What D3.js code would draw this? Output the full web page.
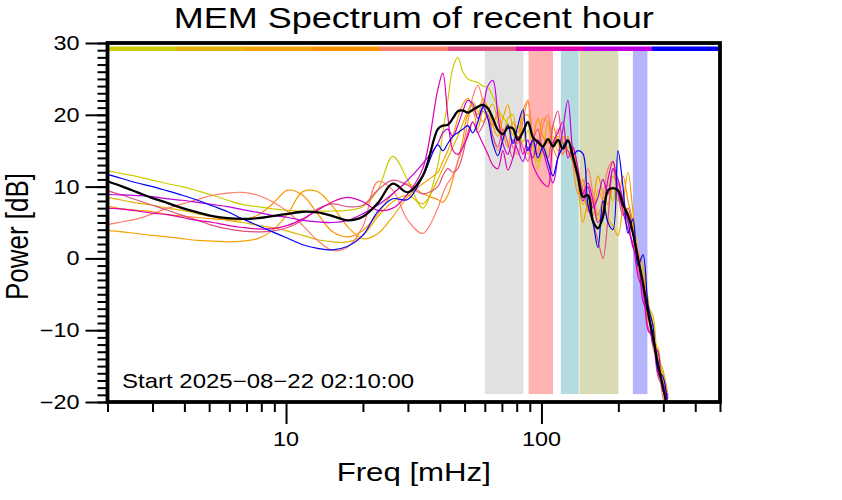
<!DOCTYPE html>
<html>
<head>
<meta charset="utf-8">
<script src="https://cdn.jsdelivr.net/npm/d3@7/dist/d3.min.js"></script>
<style>
  html, body { margin: 0; padding: 0; background: #fff; }
  svg { display: block; }
  text { font-family: "Liberation Sans", Arial, Helvetica, sans-serif; fill: #000; }
</style>
</head>
<body>
<svg id="chart" width="842" height="500"></svg>
<script>
// ---------------- DATA ----------------
const chartTitle = "MEM Spectrum of recent hour";
const xTitle = "Freq [mHz]";
const yTitle = "Power [dB]";
const startLabel = "Start 2025\u221208\u221222 02:10:00";

const xDomain = [2, 500];
const yDomain = [-20, 30];
const xMajorTicks = [10, 100];
const xMajorLabels = ["10", "100"];
const xMinorTicks = [2, 3, 4, 5, 6, 7, 8, 9, 20, 30, 40, 50, 60, 70, 80, 90, 200, 300, 400, 500];
const yMajorTicks = [-20, -10, 0, 10, 20, 30];
const yMajorLabels = ["\u221220", "\u221210", "0", "10", "20", "30"];
const yMinorTicks = d3.range(-20, 31, 1);

// frequency bands (mHz)
const bandLo = [60, 89, 119, 141, 228];
const bandHi = [85, 111, 140, 200, 260];
const bandColors = ["#e1e1e1", "#ffb3b3", "#b4dcdf", "#dadab5", "#b5b5fc"];
const bandDbRange = [-18.9, 28.9];

// frequencies (mHz) shared by all spectra
const freqs = [2.00, 2.29, 2.62, 3.00, 3.44, 3.93, 4.51, 5.16, 5.91, 6.76, 7.74, 8.86, 10.15, 11.62, 13.30, 15.23, 17.44, 19.97, 22.86, 26.17, 29.97, 34.30, 39.28,
  41.09, 42.99, 44.97, 47.04, 49.21, 51.48, 53.86, 56.35, 58.95, 61.67, 64.51, 67.49, 70.61, 73.86, 77.27, 80.84, 84.57, 88.47, 92.56, 96.83, 101.3, 106.0, 110.9, 116.0, 121.3, 126.9, 132.8, 138.9, 145.3, 152.0, 159.1, 166.4, 174.1, 182.1, 190.5, 199.3, 208.5, 218.2, 228.2, 238.8, 249.8, 261.3, 273.4, 286.0, 299.2, 313.0];

const seriesColors = ["#cccc00", "#e0b400", "#f5a300", "#ff9200", "#ff7f6a", "#e0507f", "#e000b0", "#c000e0", "#0000f5"];

const s1 = [12.2, 11.8, 11.4, 10.9, 10.4, 10.0, 9.4, 8.8, 8.1, 7.5, 7.2, 6.9, 6.7, 6.6, 6.6, 6.6, 6.7, 7.2, 9.5, 14.2, 10.9, 7.0, 13.0,
  17.5, 22.0, 26.5, 28.0, 26.0, 25.0, 24.7, 24.5, 24.0, 23.8, 22.6, 21.0, 19.6, 18.8, 17.2, 18.5, 16.2, 17.8, 15.5, 12.5, 16.0, 14.2, 17.0, 15.0, 16.2, 14.8, 13.5, 10.5, 7.5, 9.0, 7.6, 5.5, 7.0, 10.5, 8.0, 11.0, 7.0, 5.0, 3.5, -1.0, -1.5, -6.5, -8.0, -14.0, -15.5, -21.0];
const s2 = [8.5, 8.1, 7.7, 7.4, 7.0, 6.7, 6.2, 5.8, 5.3, 5.0, 4.6, 4.3, 3.8, 3.2, 2.6, 2.3, 2.3, 3.2, 5.8, 7.9, 8.8, 7.6, 11.0,
  12.5, 14.0, 15.5, 17.0, 18.8, 20.5, 21.8, 20.5, 19.0, 20.5, 21.5, 19.0, 17.0, 19.5, 20.0, 16.5, 18.0, 14.5, 16.0, 13.5, 15.0, 19.0, 15.5, 17.0, 16.0, 15.5, 15.0, 12.0, 9.5, 7.0, 8.5, 6.0, 8.0, 9.0, 11.5, 9.5, 7.5, 6.5, 4.5, 0.5, -3.0, -5.5, -11.5, -12.5, -17.5, -19.5];
const s3 = [3.9, 3.7, 3.45, 3.2, 3.0, 2.75, 2.5, 2.4, 2.3, 2.4, 2.75, 3.9, 6.2, 9.3, 9.3, 7.2, 4.4, 2.75, 3.45, 5.8, 8.6, 10.4, 12.0,
  13.5, 15.0, 17.0, 19.5, 21.5, 22.3, 21.0, 20.0, 22.3, 21.0, 18.5, 17.0, 19.5, 21.4, 18.0, 16.0, 19.5, 20.0, 16.5, 15.0, 19.5, 19.0, 15.5, 14.0, 17.0, 15.0, 14.5, 10.5, 5.0, 7.5, 6.0, 9.5, 8.0, 5.5, 4.5, 3.2, 7.5, 12.0, 6.5, 1.0, -1.0, -6.5, -9.0, -14.5, -16.0, -19.0];
const s4 = [7.3, 6.9, 6.7, 6.5, 6.1, 5.9, 5.7, 5.5, 5.4, 5.4, 6.0, 7.6, 9.5, 8.8, 6.2, 3.7, 3.0, 3.9, 6.2, 9.0, 10.4, 9.0, 8.2,
  7.8, 8.8, 11.0, 13.5, 16.5, 20.0, 20.5, 18.0, 20.5, 19.5, 18.5, 20.5, 17.5, 15.5, 19.0, 17.5, 20.5, 22.0, 17.0, 19.5, 17.0, 16.0, 18.5, 16.0, 14.5, 17.0, 13.0, 9.0, 11.0, 6.5, 8.0, 11.5, 9.0, 7.5, 10.0, 8.0, 11.5, 8.0, 5.0, -0.5, -2.5, -8.5, -10.5, -15.5, -17.0, -22.0];
const s5 = [4.7, 5.1, 5.5, 6.2, 7.0, 7.6, 8.2, 8.8, 9.1, 9.2, 8.8, 7.9, 6.5, 4.6, 2.5, 1.1, 1.6, 4.4, 10.7, 9.5, 5.3, 3.5, 7.0,
  9.0, 10.5, 11.5, 13.5, 15.5, 19.0, 22.5, 24.1, 22.0, 19.5, 17.0, 15.0, 16.5, 18.5, 15.5, 14.5, 19.0, 21.8, 17.0, 14.5, 18.5, 20.0, 16.0, 18.0, 14.5, 16.5, 15.5, 12.5, 10.0, 12.5, 9.0, 6.0, 8.5, 12.5, 13.5, 10.5, 8.5, 5.5, 2.0, 1.0, -5.0, -6.5, -12.5, -14.5, -19.5, -21.5];
const s6 = [9.4, 8.8, 8.1, 7.4, 6.7, 6.0, 5.3, 4.6, 4.1, 3.8, 3.7, 3.8, 4.3, 5.3, 6.9, 7.6, 7.2, 7.4, 9.5, 10.9, 10.2, 9.0, 10.0,
  11.5, 12.5, 12.0, 12.5, 14.5, 17.5, 19.0, 17.5, 18.5, 20.0, 17.0, 15.5, 18.0, 16.0, 14.0, 17.0, 15.5, 13.5, 16.5, 18.0, 15.0, 14.0, 18.5, 20.5, 16.0, 15.0, 13.5, 11.0, 9.5, 7.0, 5.0, 2.5, 0.0, 5.5, 12.5, 9.0, 6.0, 7.0, 3.5, -1.5, -4.0, -9.5, -11.5, -16.5, -18.0, -22.0];
const s7 = [7.0, 6.85, 6.6, 6.3, 6.1, 5.7, 5.3, 5.0, 4.6, 4.3, 4.1, 4.15, 4.6, 5.5, 6.7, 7.9, 8.5, 7.9, 6.7, 7.0, 9.0, 12.5, 23.5,
  25.8, 19.8, 15.1, 14.5, 15.5, 17.0, 19.0, 17.5, 16.0, 14.5, 13.0, 12.5, 15.0, 12.3, 14.0, 17.0, 14.5, 16.5, 13.0, 11.5, 10.5, 10.0, 16.0, 17.5, 19.0, 14.0, 15.5, 12.5, 9.0, 10.5, 8.0, 5.0, 6.5, 11.0, 13.5, 9.5, 6.5, 4.0, 2.0, -2.5, -4.5, -10.0, -11.0, -16.0, -17.5, -19.5];
const s8 = [8.9, 8.85, 8.75, 8.6, 8.3, 8.1, 7.8, 7.5, 7.2, 6.8, 6.4, 6.0, 5.7, 5.3, 5.1, 5.0, 5.3, 6.2, 7.4, 9.0, 10.9, 13.2, 16.0,
  17.5, 18.0, 17.0, 18.5, 20.5, 22.0, 21.5, 19.5, 21.0, 24.0, 24.8, 20.0, 16.0, 14.5, 16.5, 15.0, 13.5, 15.5, 14.0, 16.5, 15.0, 12.5, 10.5, 14.0, 18.0, 22.0, 14.5, 11.0, 8.0, 10.0, 7.0, 8.5, 11.0, 9.0, 12.5, 11.0, 8.0, 5.0, 1.5, 0.0, -6.0, -7.5, -12.0, -13.0, -18.5, -19.0];
const s9 = [11.7, 11.1, 10.5, 10.0, 9.4, 8.8, 8.1, 7.3, 6.5, 5.5, 4.6, 3.7, 2.8, 1.9, 1.4, 1.2, 1.7, 3.2, 6.5, 8.3, 8.2, 11.4, 15.8,
  15.0, 16.0, 17.0, 17.5, 18.0, 18.5, 17.5, 19.0, 21.1, 19.5, 16.0, 14.3, 16.5, 18.6, 16.0, 18.5, 20.7, 15.0, 16.5, 14.0, 15.5, 13.5, 11.5, 14.0, 15.5, 16.5, 14.5, 15.0, 14.6, 7.5, 5.0, 1.5, 8.0, 5.0, 4.0, 15.0, 10.0, 3.5, 5.5, -1.0, 0.5, -6.5, -9.5, -15.5, -16.5, -21.0];
const meanSpectrum = [10.75, 10.0, 9.2, 8.4, 7.7, 7.0, 6.4, 5.9, 5.6, 5.5, 5.6, 5.9, 6.2, 6.5, 6.4, 5.9, 5.3, 5.8, 7.7, 10.4, 9.2, 11.5, 18.0,
  18.5, 18.6, 19.5, 20.5, 20.6, 20.3, 20.7, 21.1, 21.4, 20.9, 19.5, 17.9, 17.3, 18.2, 18.1, 16.5, 17.6, 19.0, 16.9, 16.2, 15.6, 16.6, 15.6, 16.5, 15.3, 16.4, 14.2, 11.5, 8.6, 8.8, 5.2, 4.2, 5.8, 9.5, 9.8, 9.5, 7.5, 6.0, 3.5, 0.0, -3.5, -7.5, -11.0, -14.8, -18.0, -21.5];

const spectra = [s1, s2, s3, s4, s5, s6, s7, s8, s9];

// ---------------- LAYOUT ----------------
const svg = d3.select("#chart");
const L = 107.5, R = 720, T = 43, B = 402;
const SX = 1.2; // horizontal text stretch seen in the reference

const x = d3.scaleLog().domain(xDomain).range([L, R]);
const y = d3.scaleLinear().domain(yDomain).range([B, T]);

svg.append("defs").append("clipPath").attr("id", "plotclip")
  .append("rect").attr("x", L).attr("y", T).attr("width", R - L).attr("height", B - T);

// bands
svg.append("g").selectAll("rect").data(bandLo).join("rect")
  .attr("x", (d, i) => x(d))
  .attr("width", (d, i) => x(bandHi[i]) - x(d))
  .attr("y", y(bandDbRange[1]))
  .attr("height", y(bandDbRange[0]) - y(bandDbRange[1]))
  .attr("fill", (d, i) => bandColors[i]);

// spectra
const line = d3.line()
  .x((d, i) => x(freqs[i]))
  .y(d => y(d))
  .curve(d3.curveCatmullRom.alpha(0.5));

const gl = svg.append("g").attr("clip-path", "url(#plotclip)");
gl.selectAll("path.s").data(spectra).join("path")
  .attr("class", "s")
  .attr("d", d => line(d))
  .attr("fill", "none")
  .attr("stroke", (d, i) => seriesColors[i])
  .attr("stroke-width", 1.2)
  .attr("stroke-linejoin", "round");
gl.append("path")
  .attr("d", line(meanSpectrum))
  .attr("fill", "none")
  .attr("stroke", "#000")
  .attr("stroke-width", 2.3)
  .attr("stroke-linejoin", "round");

// time colour bar along the top
const segW = (R - L) / seriesColors.length;
svg.append("g").selectAll("rect").data(seriesColors).join("rect")
  .attr("x", (d, i) => L + i * segW)
  .attr("width", segW + 0.3)
  .attr("y", T + 3.5)
  .attr("height", 4.5)
  .attr("fill", d => d);

// axes (ticks only; labels drawn separately)
function tickAxis(axis, transform) {
  const g = svg.append("g").attr("transform", transform).call(axis);
  g.select(".domain").remove();
  g.selectAll("line").attr("stroke", "#000").attr("stroke-width", 2);
  g.selectAll("text").remove();
  return g;
}
tickAxis(d3.axisBottom(x).tickValues(xMinorTicks).tickSize(10).tickFormat(""), `translate(0,${B})`);
tickAxis(d3.axisBottom(x).tickValues(xMajorTicks).tickSize(22).tickFormat(""), `translate(0,${B})`);
tickAxis(d3.axisLeft(y).tickValues(yMinorTicks).tickSize(10).tickFormat(""), `translate(${L},0)`);
tickAxis(d3.axisLeft(y).tickValues(yMajorTicks).tickSize(22).tickFormat(""), `translate(${L},0)`);

// frame
svg.append("rect")
  .attr("x", L).attr("y", T).attr("width", R - L).attr("height", B - T)
  .attr("fill", "none").attr("stroke", "#000").attr("stroke-width", 3.8);

// stretched text helper
function stext(tx, ty, str, size, anchor, rotate) {
  return svg.append("text")
    .attr("transform", `translate(${tx},${ty}) scale(${SX},1)` + (rotate ? ` rotate(${rotate})` : ""))
    .attr("text-anchor", anchor)
    .attr("font-size", size)
    .text(str);
}

xMajorTicks.forEach((v, i) => stext(x(v), 446, xMajorLabels[i], 19.5, "middle"));
yMajorTicks.forEach((v, i) => stext(79.5, y(v) + 7, yMajorLabels[i], 19.5, "end"));

stext((L + R) / 2, 28, chartTitle, 30, "middle");
stext((L + R) / 2, 481, xTitle, 26, "middle");
stext(28, (T + B) / 2 + 14, yTitle, 26, "middle", -90);
stext(122, 388, startLabel, 20, "start");
</script>
</body>
</html>
